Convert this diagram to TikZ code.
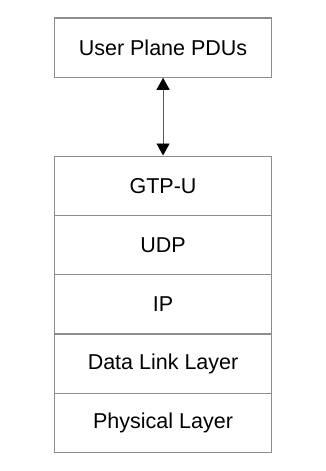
\documentclass[tikz,border=0pt]{standalone}
\usepackage{fontspec}
\setmainfont{Liberation Sans}
\usetikzlibrary{arrows.meta}
\definecolor{edgegray}{RGB}{140,140,140}
\definecolor{shaftgray}{RGB}{90,90,90}
\begin{document}
\begin{tikzpicture}[x=1pt,y=-1pt,
  layerbox/.style={draw=edgegray, line width=1.2pt, minimum width=217.5pt, minimum height=59.3pt, inner sep=0pt, anchor=north west, font=\fontsize{21.5}{25}\selectfont, text=black},
  link/.style={draw=shaftgray, line width=0.9pt, {Triangle[length=12pt,width=13pt,color=black]}-{Triangle[length=12pt,width=13pt,color=black]}}]
\useasboundingbox (0,0) rectangle (326,471);
\node[layerbox] (pdu) at (53.7,17.3) {User Plane PDUs};
\node[layerbox] (gtp) at (53.7,155.5) {GTP-U};
\node[layerbox] (udp) at (53.7,214.8) {UDP};
\node[layerbox] (ip) at (53.7,274.1) {IP};
\node[layerbox] (dl) at (53.7,333.4) {Data Link Layer};
\node[layerbox] (phy) at (53.7,392.7) {Physical Layer};
\draw[link] (pdu.south) -- (gtp.north);
\end{tikzpicture}
\end{document}
